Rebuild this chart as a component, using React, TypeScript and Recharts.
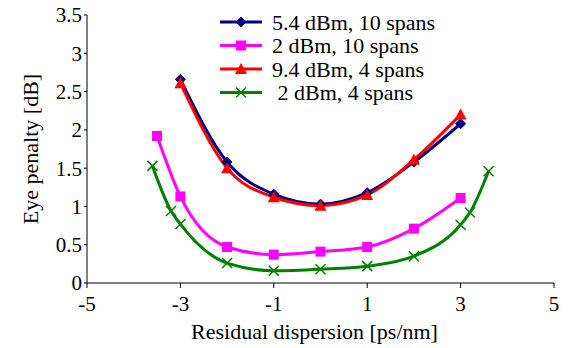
import React from "react";
import { LineChart, Line, XAxis, YAxis } from "recharts";

// residual dispersion [ps/nm] and eye penalty [dB] per series
const blueX = [-3, -2, -1, 0, 1, 2, 3];
const blueY = [2.66, 1.58, 1.16, 1.03, 1.18, 1.58, 2.08];

const magentaX = [-3.5, -3, -2, -1, 0, 1, 2, 3];
const magentaY = [1.92, 1.13, 0.47, 0.37, 0.41, 0.47, 0.71, 1.11];

const redX = [-3, -2, -1, 0, 1, 2, 3];
const redY = [2.61, 1.5, 1.12, 1.01, 1.15, 1.61, 2.2];

const greenX = [-3.6, -3.2, -3, -2, -1, 0, 1, 2, 3, 3.2, 3.6];
const greenY = [1.53, 0.94, 0.77, 0.26, 0.16, 0.18, 0.22, 0.35, 0.76, 0.92, 1.46];

const xTicks = [-5, -3, -1, 1, 3, 5];
const yTicks = [0, 0.5, 1, 1.5, 2, 2.5, 3, 3.5];

const seriesNames = ["5.4 dBm, 10 spans", "2 dBm, 10 spans", "9.4 dBm, 4 spans", " 2 dBm, 4 spans"];

const toRows = (xs: number[], ys: number[]) => xs.map((x, i) => ({ x, y: ys[i] }));

const FONT = "Liberation Serif, serif";

const Diamond = (props: any) => {
  const { cx, cy } = props;
  if (cx == null || cy == null) return null;
  const s = 5;
  return (
    <polygon
      points={`${cx},${cy - s} ${cx + s},${cy} ${cx},${cy + s} ${cx - s},${cy}`}
      fill="#000080"
      stroke="#000080"
    />
  );
};

const Square = (props: any) => {
  const { cx, cy } = props;
  if (cx == null || cy == null) return null;
  return <rect x={cx - 5} y={cy - 5} width={10} height={10} fill="#ff00ff" />;
};

const Triangle = (props: any) => {
  const { cx, cy } = props;
  if (cx == null || cy == null) return null;
  return (
    <polygon points={`${cx},${cy - 6} ${cx + 6},${cy + 5} ${cx - 6},${cy + 5}`} fill="#ff0000" />
  );
};

const Cross = (props: any) => {
  const { cx, cy } = props;
  if (cx == null || cy == null) return null;
  const s = 5;
  return (
    <g stroke="#008000" strokeWidth={1.5}>
      <line x1={cx - s} y1={cy - s} x2={cx + s} y2={cy + s} />
      <line x1={cx - s} y1={cy + s} x2={cx + s} y2={cy - s} />
    </g>
  );
};

const markers = [Diamond, Square, Triangle, Cross];
const colors = ["#000080", "#ff00ff", "#ff0000", "#008000"];

const LegendBox = () => (
  <svg width={250} height={100} style={{ position: "absolute", left: 218, top: 11 }}>
    {seriesNames.map((name, i) => {
      const Mark = markers[i];
      const y = 11 + i * 23.5;
      return (
        <g key={name}>
          <line x1={2} y1={y} x2={44} y2={y} stroke={colors[i]} strokeWidth={3} />
          <Mark cx={23} cy={y} />
          <text
            x={54}
            y={y}
            dy="0.35em"
            fontFamily={FONT}
            fontSize={22}
            fill="#000"
            style={{ whiteSpace: "pre" }}
          >
            {name}
          </text>
        </g>
      );
    })}
  </svg>
);

export default function App() {
  return (
    <div style={{ position: "absolute", left: 0, top: 0, width: 569, height: 348, background: "#fff" }}>
      <LineChart
        width={569}
        height={348}
        margin={{ top: 15, right: 15, left: 0, bottom: 0 }}
        style={{ fontFamily: FONT }}
      >
        <XAxis
          type="number"
          dataKey="x"
          domain={[-5, 5]}
          ticks={xTicks}
          height={65}
          tickSize={5}
          tickMargin={8}
          stroke="#000"
          tick={{ fill: "#000", fontSize: 21, fontFamily: FONT }}
          label={{
            value: "Residual dispersion [ps/nm]",
            position: "insideBottom",
            offset: 9,
            dx: -6,
            fill: "#000",
            fontSize: 22,
            fontFamily: FONT,
          }}
        />
        <YAxis
          type="number"
          domain={[0, 3.5]}
          ticks={yTicks}
          width={87}
          tickSize={3}
          tickMargin={2}
          stroke="#000"
          interval={0}
          tick={{ fill: "#000", fontSize: 21, fontFamily: FONT }}
          label={{
            value: "Eye penalty [dB]",
            angle: -90,
            position: "insideLeft",
            offset: 30,
            style: { textAnchor: "middle" },
            fill: "#000",
            fontSize: 22,
            fontFamily: FONT,
          }}
        />
        <Line
          data={toRows(blueX, blueY)}
          dataKey="y"
          name={seriesNames[0]}
          type="monotone"
          stroke="#000080"
          strokeWidth={3}
          dot={<Diamond />}
          activeDot={false}
          isAnimationActive={false}
        />
        <Line
          data={toRows(magentaX, magentaY)}
          dataKey="y"
          name={seriesNames[1]}
          type="monotone"
          stroke="#ff00ff"
          strokeWidth={3}
          dot={<Square />}
          activeDot={false}
          isAnimationActive={false}
        />
        <Line
          data={toRows(redX, redY)}
          dataKey="y"
          name={seriesNames[2]}
          type="monotone"
          stroke="#ff0000"
          strokeWidth={3}
          dot={<Triangle />}
          activeDot={false}
          isAnimationActive={false}
        />
        <Line
          data={toRows(greenX, greenY)}
          dataKey="y"
          name={seriesNames[3]}
          type="monotone"
          stroke="#008000"
          strokeWidth={3}
          dot={<Cross />}
          activeDot={false}
          isAnimationActive={false}
        />
      </LineChart>
      <LegendBox />
    </div>
  );
}
